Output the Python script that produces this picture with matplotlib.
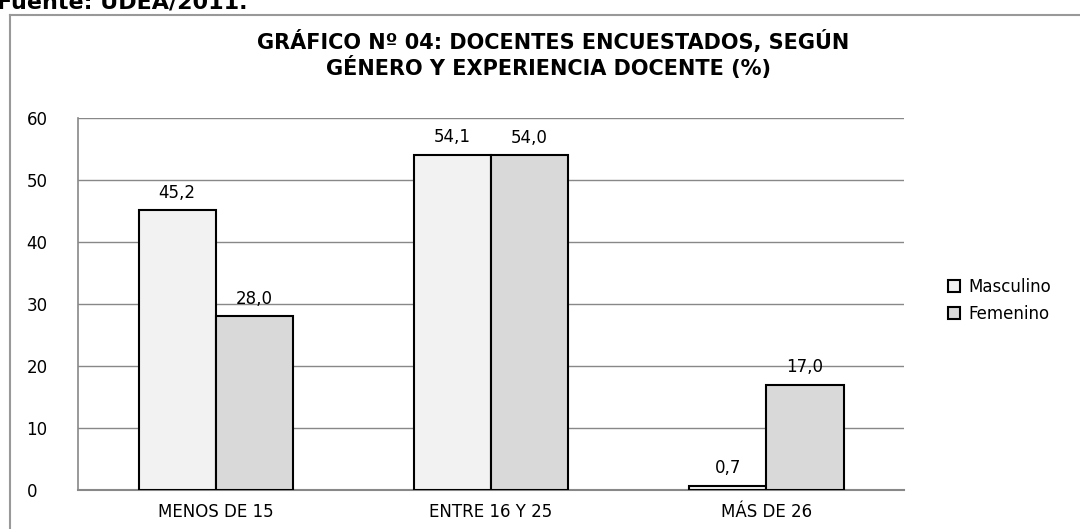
import matplotlib.pyplot as plt
import numpy as np
from matplotlib.lines import Line2D

categories = ["MENOS DE 15", "ENTRE 16 Y 25", "MÁS DE 26"]
masculino = [45.2, 54.1, 0.7]
femenino = [28.0, 54.0, 17.0]
series = ["Masculino", "Femenino"]
colors = ["#f2f2f2", "#d9d9d9"]

plt.rcParams["font.family"] = ["DejaVu Sans"]

fig = plt.figure(figsize=(10.8, 5.29), dpi=100)
ax = fig.add_axes([0.0722, 0.0737, 0.765, 0.703])

x = np.arange(len(categories))
w = 0.28
b1 = ax.bar(x - w / 2, masculino, w, color=colors[0], edgecolor="black", linewidth=1.5, label=series[0], zorder=3)
b2 = ax.bar(x + w / 2, femenino, w, color=colors[1], edgecolor="black", linewidth=1.5, label=series[1], zorder=3)

for bars, vals in [(b1, masculino), (b2, femenino)]:
    for bar, v in zip(bars, vals):
        ax.annotate(f"{v:.1f}".replace(".", ","), (bar.get_x() + bar.get_width() / 2, v),
                    xytext=(0, 6), textcoords="offset points", ha="center", va="bottom", fontsize=12)

ax.set_xlim(-0.5, 2.5)
ax.set_ylim(0, 60)
ax.set_yticks(range(0, 61, 10))
ax.set_xticks(x)
ax.set_xticklabels(categories, fontsize=12)
ax.tick_params(axis="y", labelsize=12, length=0, pad=37)
ax.tick_params(axis="x", length=0, pad=9)
for lbl in ax.get_yticklabels():
    lbl.set_horizontalalignment("left")
ax.grid(axis="y", color="#888888", linewidth=1, zorder=0)
for s in ["top", "right"]:
    ax.spines[s].set_visible(False)
ax.spines["left"].set_color("#888888")
ax.spines["bottom"].set_color("#888888")
ax.spines["left"].set_linewidth(1.2)
ax.spines["bottom"].set_linewidth(1.5)

ax.legend(loc="center left", bbox_to_anchor=(1.035, 0.51), frameon=False,
          handlelength=0.7, handleheight=0.7, handletextpad=0.5, labelspacing=0.55,
          prop={"size": 12})

# outer frame (cut at right and bottom)
fig.add_artist(Line2D([10 / 1080, 10 / 1080], [0, 1 - 15 / 529], transform=fig.transFigure, color="#999999", linewidth=1.5))
fig.add_artist(Line2D([10 / 1080, 1], [1 - 15 / 529, 1 - 15 / 529], transform=fig.transFigure, color="#999999", linewidth=1.5))

fig.text(0.512, 1 - 42 / 529, "GRÁFICO Nº 04: DOCENTES ENCUESTADOS, SEGÚN",
         ha="center", va="center", fontsize=15, fontweight="bold")
fig.text(0.508, 1 - 68 / 529, "GÉNERO Y EXPERIENCIA DOCENTE (%)",
         ha="center", va="center", fontsize=15, fontweight="bold")
fig.text(-0.003, 1 - 8 / 529, "Fuente: UDEA/2011.", ha="left", va="baseline", fontsize=16,
         fontweight="bold")

fig.savefig("out.png", dpi=100)
